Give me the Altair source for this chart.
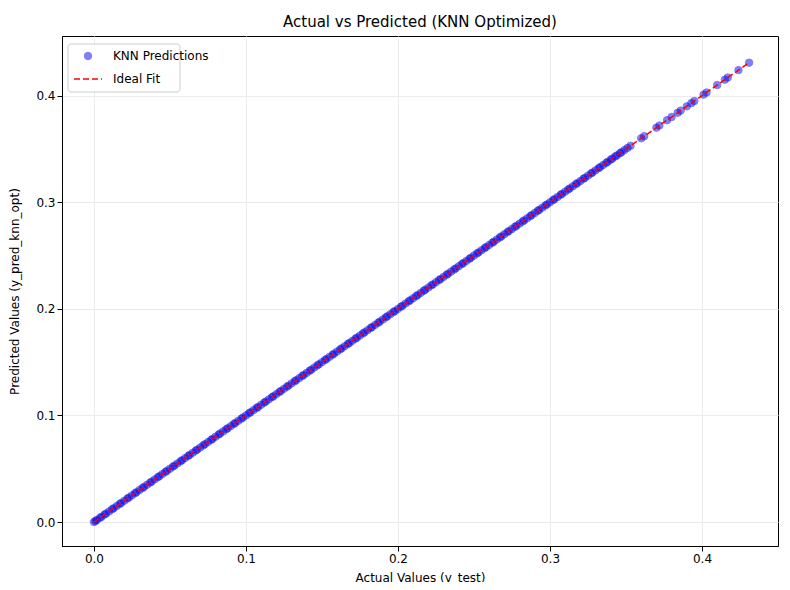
import altair as alt
import pandas as pd

actual = [0.0,0.002,0.005,0.008,0.01,0.013,0.015,0.018,0.02,0.023,0.025,0.028,0.03,0.033,0.035,0.038,0.04,0.043,0.045,0.048,
0.05,0.053,0.055,0.058,0.06,0.063,0.065,0.068,0.07,0.073,0.075,0.078,0.08,0.083,0.085,0.088,0.09,0.093,0.095,0.098,
0.1,0.103,0.105,0.108,0.11,0.113,0.115,0.118,0.12,0.123,0.125,0.128,0.13,0.133,0.135,0.138,0.14,0.143,0.145,0.148,
0.15,0.153,0.155,0.158,0.16,0.163,0.165,0.168,0.17,0.173,0.175,0.178,0.18,0.183,0.185,0.188,0.19,0.193,0.195,0.198,
0.2,0.203,0.205,0.208,0.21,0.213,0.215,0.218,0.22,0.223,0.225,0.228,0.23,0.233,0.235,0.238,0.24,0.243,0.245,0.248,
0.25,0.253,0.255,0.258,0.26,0.263,0.265,0.268,0.27,0.273,0.275,0.278,0.28,0.283,0.285,0.288,0.29,0.293,0.295,0.298,
0.3,0.303,0.305,0.308,0.31,0.313,0.315,0.318,0.32,0.323,0.325,0.328,0.33,0.333,0.335,0.338,0.34,0.343,0.346,0.349,
0.353,0.36,0.362,0.37,0.372,0.377,0.38,0.384,0.386,0.39,0.393,0.395,0.401,0.403,0.41,0.415,0.417,0.424,0.431]
actual_extra = [0.001,0.004,0.007,0.012,0.017,0.022,0.027,0.032,0.037,0.042,0.047,0.052,0.057,0.062,0.067,0.072,0.077,
0.082,0.087,0.092,0.097,0.102,0.107,0.112,0.117,0.122,0.127,0.132,0.137,0.142,0.147,0.152,0.157,0.162,0.167,0.172,
0.177,0.182,0.187,0.192,0.197,0.202,0.207,0.212,0.217,0.222,0.227,0.232,0.237,0.242,0.247,0.252,0.257,0.262,0.267,
0.272,0.277,0.282,0.287,0.292,0.297,0.302,0.307,0.312,0.317,0.322,0.327,0.332,0.337,0.341,0.344,0.347,0.351]
all_actual = actual + actual_extra
predicted = list(all_actual)
fit_x = [0.0, 0.431]

pts = pd.DataFrame({"a": all_actual, "p": predicted})
fit = pd.DataFrame({"a": fit_x, "p": fit_x})

xs = alt.Scale(domain=[-0.021, 0.45], nice=False, zero=False)
ys = alt.Scale(domain=[-0.0225, 0.456], nice=False, zero=False)
ticks = [0.0, 0.1, 0.2, 0.3, 0.4]
common = dict(values=ticks, format=".1f", gridColor="#ebebeb", labelFontSize=12, titleFontSize=12,
              titleFontWeight="normal", labelColor="black", titleColor="black", tickColor="black",
              domainColor="black", labelFont="DejaVu Sans", titleFont="DejaVu Sans")
xa = alt.Axis(title="Actual Values (y_test)", titlePadding=8, **common)
ya = alt.Axis(title="Predicted Values (y_pred_knn_opt)", titlePadding=14, **common)

points = alt.Chart(pts).mark_circle(size=55, color="blue", opacity=0.5, stroke="#0000cc", strokeWidth=1).encode(
    x=alt.X("a:Q", scale=xs, axis=xa), y=alt.Y("p:Q", scale=ys, axis=ya))
line = alt.Chart(fit).mark_line(color="red", strokeDash=[6, 3], strokeWidth=1.5).encode(
    x=alt.X("a:Q", scale=xs), y=alt.Y("p:Q", scale=ys))

one = pd.DataFrame({"k": [0]})
box = alt.Chart(one).mark_rect(fill="white", stroke="#cccccc", cornerRadius=3).encode(
    x=alt.value(6), x2=alt.value(118), y=alt.value(8), y2=alt.value(56))
dot = alt.Chart(one).mark_circle(size=55, color="blue", opacity=0.5, stroke="#0000cc", strokeWidth=1).encode(
    x=alt.value(26), y=alt.value(20))
leg_line = alt.Chart(one).mark_rule(color="red", strokeDash=[6, 3], strokeWidth=1.5).encode(
    x=alt.value(12), x2=alt.value(40), y=alt.value(43))
t1 = alt.Chart(one).mark_text(text="KNN Predictions", align="left", baseline="middle",
    fontSize=12, font="DejaVu Sans").encode(x=alt.value(51), y=alt.value(20))
t2 = alt.Chart(one).mark_text(text="Ideal Fit", align="left", baseline="middle",
    fontSize=12, font="DejaVu Sans").encode(x=alt.value(51), y=alt.value(43))

chart = alt.layer(points, line, box, dot, leg_line, t1, t2).properties(
    width=716, height=510,
    title=alt.TitleParams("Actual vs Predicted (KNN Optimized)", fontSize=15, fontWeight="normal",
                          font="DejaVu Sans", color="black", offset=6),
    autosize=alt.AutoSizeParams(type="none"),
    padding={"left": 54, "top": 28, "right": 4, "bottom": 36},
).configure_view(stroke="black", strokeWidth=1)

chart.save("out.html", embed_options={"renderer": "svg", "actions": False})
